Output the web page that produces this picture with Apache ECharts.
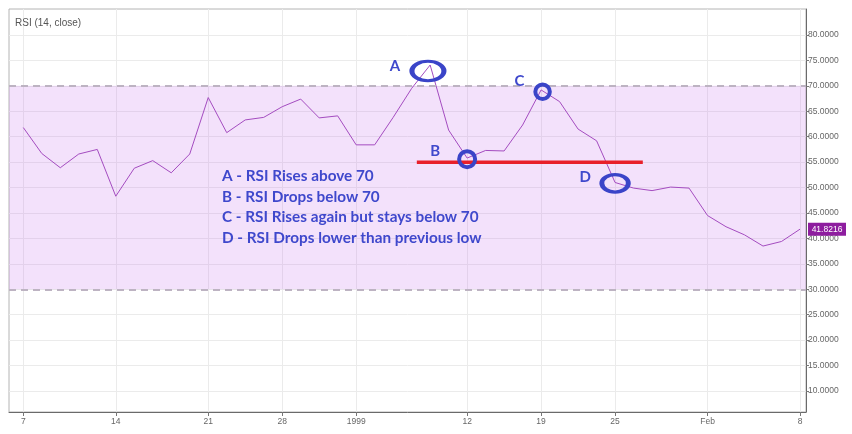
<!DOCTYPE html>
<html>
<head>
<meta charset="utf-8">
<script src="https://cdn.jsdelivr.net/npm/echarts@6/dist/echarts.min.js"></script>
<style>
  html, body { margin: 0; padding: 0; background: #ffffff; }
  #chart { width: 852px; height: 434px; }
</style>
</head>
<body>
<div id="chart"></div>
<script>
// Trading days (Dec 7, 1998 – Feb 8, 1999)
const categories = [
  '1998-12-07','1998-12-08','1998-12-09','1998-12-10','1998-12-11',
  '1998-12-14','1998-12-15','1998-12-16','1998-12-17','1998-12-18',
  '1998-12-21','1998-12-22','1998-12-23','1998-12-24',
  '1998-12-28','1998-12-29','1998-12-30','1998-12-31',
  '1999-01-04','1999-01-05','1999-01-06','1999-01-07','1999-01-08',
  '1999-01-11','1999-01-12','1999-01-13','1999-01-14','1999-01-15',
  '1999-01-19','1999-01-20','1999-01-21','1999-01-22',
  '1999-01-25','1999-01-26','1999-01-27','1999-01-28','1999-01-29',
  '1999-02-01','1999-02-02','1999-02-03','1999-02-04','1999-02-05',
  '1999-02-08'
];
// RSI (14, close) values
const rsi = [
  61.8, 56.7, 53.9, 56.6, 57.5,
  48.3, 53.8, 55.3, 52.9, 56.6,
  67.7, 60.8, 63.3, 63.8,
  65.9, 67.4, 63.7, 64.1,
  58.4, 58.4, 63.8, 69.5, 74.1,
  61.3, 55.8, 57.3, 57.2, 62.3,
  69.2, 66.9, 61.5, 59.2,
  51.0, 49.9, 49.4, 50.1, 49.9,
  44.5, 42.3, 40.7, 38.5, 39.4,
  41.8216
];
const lastLabel = '41.8216';
// x-axis tick labels
const tickDates = ['1998-12-07','1998-12-14','1998-12-21','1998-12-28','1999-01-04','1999-01-12','1999-01-19','1999-01-25','1999-02-01','1999-02-08'];
const tickTexts = ['7','14','21','28','1999','12','19','25','Feb','8'];
// y-axis ticks
const yTickMin = 10, yTickMax = 80, yTickStep = 5;
// RSI band
const bandUpper = 70, bandLower = 30;
// Annotations (x in trading-day index units, y in RSI units)
const supportLevel = 55;
const supportFrom = 21.28, supportTo = 33.5;
const circleNames = ['A','B','C','D'];
const circleX = [21.88, 24.0, 28.08, 32.0];
const circleY = [72.92, 55.58, 68.83, 50.84];
const circleW = [32, 16, 14.5, 26.5];
const circleH = [19.5, 16, 14.5, 17.5];
const letterX = [20.1, 22.27, 26.83, 30.38];
const letterY = [73.9, 57.19, 70.96, 52.08];
const notes = [
  'A - RSI Rises above 70',
  'B - RSI Drops below 70',
  'C - RSI Rises again but stays below 70',
  'D - RSI Drops lower than previous low'
];

const tickMap = {};
tickDates.forEach((d, i) => { tickMap[d] = tickTexts[i]; });
const isTick = (i, v) => Object.prototype.hasOwnProperty.call(tickMap, v);

const BLUE = '#3f48cc';
const SANS = '"Liberation Sans", Arial, sans-serif';
const chart = echarts.init(document.getElementById('chart'), null, { renderer: 'canvas' });

const option = {
  animation: false,
  backgroundColor: '#ffffff',
  title: {
    text: 'RSI (14, close)', left: 10, top: 13,
    textStyle: { fontSize: 10, fontWeight: 'normal', color: '#555', fontFamily: SANS }
  },
  grid: [
    { left: 9, right: 46, top: 35, bottom: 43 },                 // y labels / horizontal grid
    { left: 9, right: 46, top: 9, bottom: 22, show: true, borderColor: '#b4b4b4', borderWidth: 1 }, // frame
    { left: 23.3, right: 52, top: 9, bottom: 22 }                // data
  ],
  xAxis: [
    { gridIndex: 0, type: 'value', min: 0, max: 1, show: false, axisLine: { onZero: false } },
    { gridIndex: 1, type: 'value', min: 0, max: 1, position: 'bottom',
      axisLine: { show: true, onZero: false, lineStyle: { color: '#6a6a6a', width: 1 } },
      axisTick: { show: false }, axisLabel: { show: false }, splitLine: { show: false } },
    { gridIndex: 2, type: 'category', data: categories, boundaryGap: false, position: 'bottom',
      axisLine: { show: false, onZero: false },
      axisTick: { show: true, interval: isTick, length: 4, lineStyle: { color: '#777' } },
      axisLabel: { interval: isTick, formatter: v => tickMap[v] || '', margin: 5,
        fontSize: 8.5, color: '#666', fontFamily: SANS },
      splitLine: { show: true, interval: isTick, lineStyle: { color: '#ebebeb', width: 1 } } },
    { gridIndex: 2, type: 'value', min: 0, max: categories.length - 1, show: false, axisLine: { onZero: false } }
  ],
  yAxis: [
    { gridIndex: 0, type: 'value', position: 'right', min: yTickMin, max: yTickMax, interval: yTickStep,
      axisLine: { show: false, onZero: false },
      axisTick: { show: true, length: 3, lineStyle: { color: '#777' } },
      axisLabel: { formatter: v => v.toFixed(4), margin: 2, fontSize: 8.5, color: '#666', fontFamily: SANS },
      splitLine: { show: true, lineStyle: { color: '#ebebeb', width: 1 } } },
    { gridIndex: 1, type: 'value', position: 'right', min: 0, max: 1,
      axisLine: { show: true, onZero: false, lineStyle: { color: '#6a6a6a', width: 1 } },
      axisTick: { show: false }, axisLabel: { show: false }, splitLine: { show: false } },
    { gridIndex: 2, type: 'value', min: 5.872, max: 85.112, show: false, axisLine: { onZero: false }, splitLine: { show: false } }
  ],
  graphic: notes.map((t, i) => ({
    type: 'text', left: 222, top: 168.5 + i * 20.6, z: 100,
    style: { text: t, fill: BLUE, font: 'bold 15.3px Lato' }
  })),
  series: [
    {
      type: 'line', xAxisIndex: 0, yAxisIndex: 0, data: [], silent: true,
      markArea: { silent: true, itemStyle: { color: 'rgba(195,105,235,0.2)' },
        data: [[{ yAxis: bandUpper }, { yAxis: bandLower }]] },
      markLine: { silent: true, symbol: 'none', label: { show: false },
        lineStyle: { color: '#bdb3c2', width: 2, type: [7, 5] },
        data: [{ yAxis: bandUpper }, { yAxis: bandLower }] }
    },
    {
      type: 'line', xAxisIndex: 2, yAxisIndex: 2, data: rsi, symbol: 'none', silent: true,
      lineStyle: { color: '#a44cc0', width: 1 }, z: 3,
      markPoint: {
        silent: true, symbol: 'rect', symbolSize: [38, 13], symbolOffset: [27, 0],
        itemStyle: { color: '#8e1d9f' },
        label: { show: true, formatter: lastLabel, color: '#fff', fontSize: 8.5, fontFamily: SANS },
        data: [{ coord: [categories.length - 1, rsi[rsi.length - 1]] }]
      }
    },
    {
      type: 'line', xAxisIndex: 3, yAxisIndex: 2, symbol: 'none', silent: true, z: 5,
      lineStyle: { color: '#e8202a', width: 3.5 },
      data: [[supportFrom, supportLevel], [supportTo, supportLevel]]
    },
    {
      type: 'scatter', xAxisIndex: 3, yAxisIndex: 2, silent: true, z: 6,
      itemStyle: { color: 'transparent', borderColor: '#3a44c8', borderWidth: 4, opacity: 1 },
      data: circleX.map((x, i) => ({ value: [x, circleY[i]], symbolSize: [circleW[i], circleH[i]] }))
    },
    {
      type: 'scatter', xAxisIndex: 3, yAxisIndex: 2, silent: true, z: 6, symbolSize: 1,
      itemStyle: { color: 'transparent', opacity: 1 },
      label: { show: true, position: 'inside', formatter: p => p.data.name, opacity: 1,
        color: BLUE, fontSize: 15, fontWeight: 'bold', fontFamily: 'Lato' },
      data: letterX.map((x, i) => ({ name: circleNames[i], value: [x, letterY[i]] }))
    }
  ]
};
chart.setOption(option);
</script>
</body>
</html>
